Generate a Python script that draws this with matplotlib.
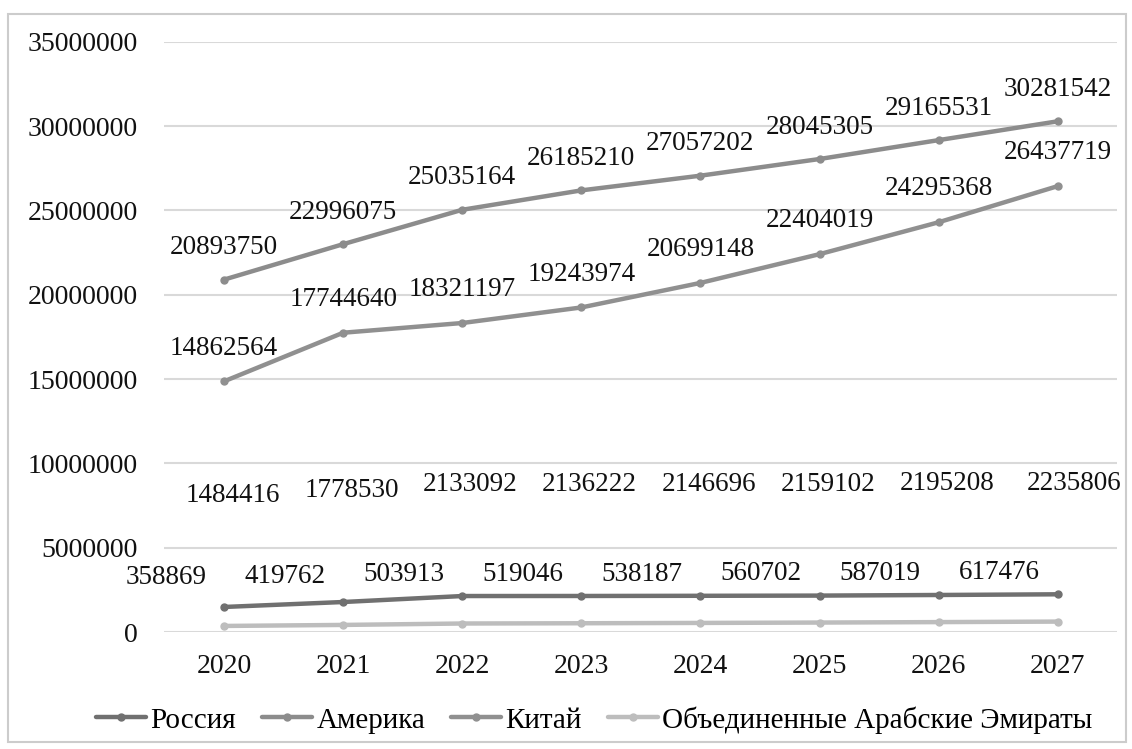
import matplotlib.pyplot as plt
from matplotlib.patches import Rectangle

years = ["2020", "2021", "2022", "2023", "2024", "2025", "2026", "2027"]
russia = [1484416, 1778530, 2133092, 2136222, 2146696, 2159102, 2195208, 2235806]
america = [20893750, 22996075, 25035164, 26185210, 27057202, 28045305, 29165531, 30281542]
china = [14862564, 17744640, 18321197, 19243974, 20699148, 22404019, 24295368, 26437719]
uae = [358869, 419762, 503913, 519046, 538187, 560702, 587019, 617476]

plt.rcParams["font.family"] = ["Liberation Serif", "DejaVu Serif"]

fig = plt.figure(figsize=(11.32, 7.49), dpi=100)
ax = fig.add_axes([0.1453, 0.1562, 0.8417, 0.7881])

x = list(range(len(years)))
series = [
    ("Россия", russia, "#707070", (6, 80)),
    ("Америка", america, "#8c8c8c", (0, 23)),
    ("Китай", china, "#909090", (0, 24)),
    ("Объединенные Арабские Эмираты", uae, "#bdbdbd", (-42, 35)),
]
for name, vals, color, off in series:
    ax.plot(x, vals, color=color, lw=3.2, marker="o", ms=5, label=name,
            solid_capstyle="round", zorder=3)
    for i, v in zip(x, vals):
        dx, dy = off
        if name == "Россия" and i == len(x) - 1:
            dx = 12
        ax.annotate(str(v), (i, v), xytext=(dx, dy), textcoords="offset points",
                    ha="center", va="center", fontsize=19.5, color="#111111",
                    zorder=4)

ax.set_xlim(-0.5, 7.5)
ax.set_ylim(0, 35000000)
ax.set_yticks(range(0, 35000001, 5000000))
ax.set_yticklabels([str(t) for t in range(0, 35000001, 5000000)])
ax.set_xticks(x)
ax.set_xticklabels(years)
ax.tick_params(axis="both", length=0, labelsize=20, colors="#111111")
ax.tick_params(axis="y", pad=19)
ax.tick_params(axis="x", pad=16)
ax.grid(axis="y", color="#d9d9d9", lw=1.5)
ax.set_axisbelow(True)
for s in ax.spines.values():
    s.set_visible(False)

fig.legend(loc="center", bbox_to_anchor=(0.525, 0.039), ncol=4, frameon=False,
           fontsize=21, handlelength=1.7, handletextpad=0.15, columnspacing=0.9)

fig.patches.append(Rectangle((8 / 1132, 7 / 749), 1118 / 1132, 728 / 749,
                             transform=fig.transFigure, fill=False,
                             edgecolor="#cccccc", lw=1.5))

fig.savefig("out.png", dpi=100)
